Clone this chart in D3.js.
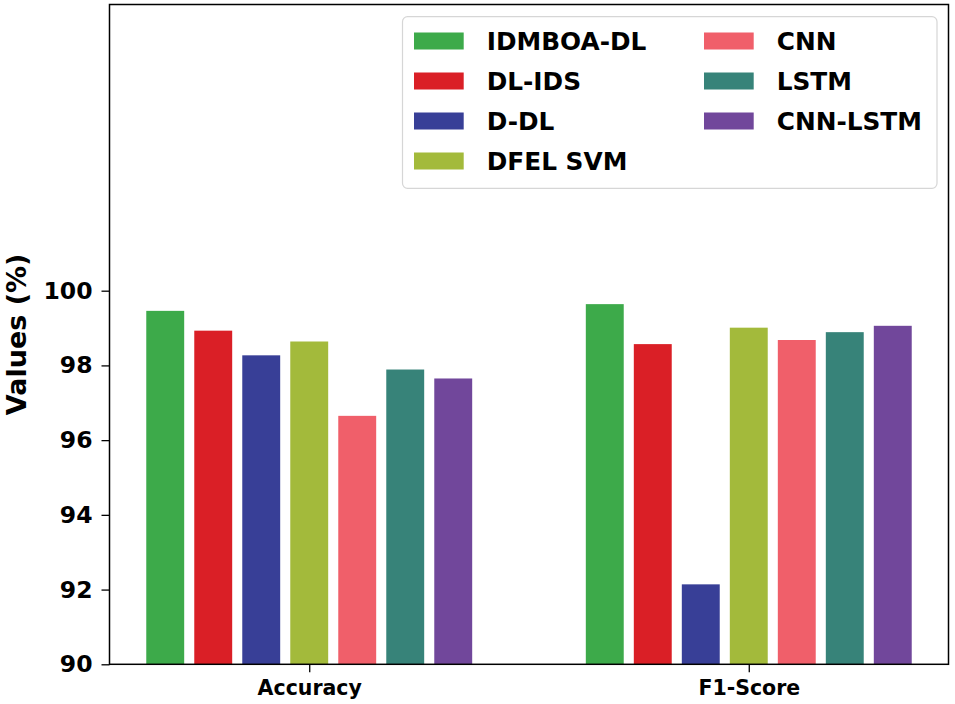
<!DOCTYPE html>
<html>
<head>
<meta charset="utf-8">
<script src="https://cdn.jsdelivr.net/npm/d3@7"></script>
<style>
  body { margin: 0; background: #fff; }
  svg { display: block; font-family: "DejaVu Sans", sans-serif; font-weight: bold; }
</style>
</head>
<body>
<svg id="chart" width="955" height="704"></svg>
<script>
const categories = ["Accuracy", "F1-Score"];
const seriesNames = ["IDMBOA-DL", "DL-IDS", "D-DL", "DFEL SVM", "CNN", "LSTM", "CNN-LSTM"];
const seriesColors = ["#3daa4a", "#da1f26", "#383f97", "#a3ba3b", "#f05f6a", "#378379", "#71479b"];
const accuracyValues = [99.46, 98.93, 98.27, 98.64, 96.65, 97.89, 97.65];
const f1Values = [99.64, 98.57, 92.14, 99.01, 98.68, 98.89, 99.06];
const yTicks = [90, 92, 94, 96, 98, 100];
const yLabel = "Values (%)";

(function () {
const valuesByCategory = [accuracyValues, f1Values];
const data = [];
categories.forEach((c, ci) => {
  seriesNames.forEach((s, si) => {
    data.push({ category: c, series: s, value: valuesByCategory[ci][si] });
  });
});

const svg = d3.select("#chart");
const mLeft = 109.5, mRight = 948.5, mTop = 4.5, mBottom = 664.3;

const x = d3.scalePoint().domain(categories).range([mLeft, mRight]).padding(0.4544);
const xi = d3.scaleBand().domain(seriesNames).range([-168, 168]).paddingInner(0.21).paddingOuter(0.105);
const y = d3.scaleLinear().domain([90, 107.66]).range([mBottom, mTop]);
const color = d3.scaleOrdinal().domain(seriesNames).range(seriesColors);

// bars
svg.append("g").selectAll("rect").data(data).join("rect")
  .attr("x", d => x(d.category) + xi(d.series))
  .attr("width", xi.bandwidth())
  .attr("y", d => y(d.value))
  .attr("height", d => y(90) - y(d.value))
  .attr("fill", d => color(d.series));

// axes
const yAxis = svg.append("g").attr("transform", `translate(${mLeft},0)`)
  .call(d3.axisLeft(y).tickValues(yTicks).tickFormat(d3.format("d")).tickSize(8).tickPadding(9));
yAxis.select(".domain").remove();
yAxis.selectAll("text").attr("font-size", 23.5).attr("font-weight", "bold").attr("font-family", "DejaVu Sans").attr("fill", "#000");
yAxis.selectAll("line").attr("stroke", "#000").attr("stroke-width", 1.3);

const xAxis = svg.append("g").attr("transform", `translate(0,${mBottom})`)
  .call(d3.axisBottom(x).tickSize(8).tickPadding(8));
xAxis.select(".domain").remove();
xAxis.selectAll("text").attr("font-size", 20.5).attr("font-weight", "bold").attr("font-family", "DejaVu Sans").attr("fill", "#000");
xAxis.selectAll("line").attr("stroke", "#000").attr("stroke-width", 1.3);

// frame
svg.append("rect").attr("x", mLeft).attr("y", mTop).attr("width", mRight - mLeft).attr("height", mBottom - mTop)
  .attr("fill", "none").attr("stroke", "#000").attr("stroke-width", 1.5);

// y label
svg.append("text")
  .attr("transform", `translate(26,${(mTop + mBottom) / 2}) rotate(-90)`)
  .attr("text-anchor", "middle")
  .attr("font-size", 27)
  .attr("fill", "#000")
  .text(yLabel);

// legend
const lg = svg.append("g");
lg.append("rect").attr("x", 402.5).attr("y", 16.7).attr("width", 534.5).attr("height", 171.6)
  .attr("rx", 5).attr("fill", "#fff").attr("fill-opacity", 0.8).attr("stroke", "#d6d6d6").attr("stroke-width", 1.2);
const rowsPerCol = 4;
const item = lg.selectAll("g.item").data(seriesNames).join("g").attr("class", "item")
  .attr("transform", (d, i) => {
    const col = Math.floor(i / rowsPerCol), row = i % rowsPerCol;
    return `translate(${414 + col * 290},${41 + row * 40})`;
  });
item.append("rect").attr("x", 0).attr("y", -8.5).attr("width", 49.7).attr("height", 17).attr("fill", d => color(d));
item.append("text").attr("x", 72.7).attr("y", 0).attr("dy", "0.36em").attr("font-size", 24.8).attr("fill", "#000").text(d => d);
})();
</script>
</body>
</html>
